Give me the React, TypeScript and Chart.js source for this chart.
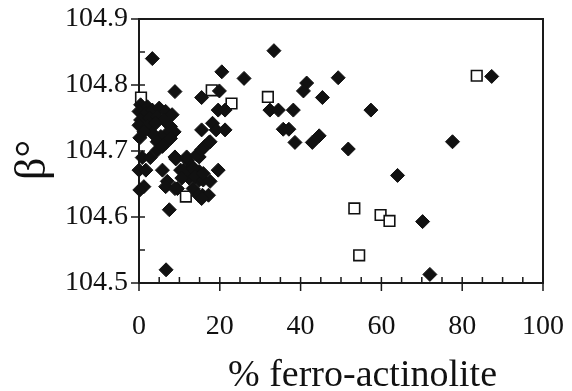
import React, { useEffect, useRef } from "react";
import { Chart, registerables } from "chart.js";

Chart.register(...registerables);

// Filled diamonds
const diamondX = [
  3.3, 20.5, 26.0, 33.4, 8.9, 19.9, 15.5,
  19.6, 21.3, 32.4, 34.5, 38.2, 57.4,
  15.5, 18.2, 19.1, 21.3, 17.3,
  49.3, 41.5, 40.7, 45.4,
  35.7, 37.1, 38.6, 42.9, 44.6, 51.8,
  64.0, 70.2, 87.3, 77.6, 72.0, 6.7, 7.5,
  0.4, 2.1, 0.0, 1.7, 3.3, 5.0, 6.6, 8.2,
  0.4, 2.5, 4.5, 6.2,
  0.0, 2.1, 4.1, 7.8, 8.7, 7.0, 5.4, 3.3, 1.2, 0.2,
  4.5, 6.6, 7.8,
  0.8, 2.8, 4.5, 5.8, 9.1, 12.0, 14.9,
  0.0, 1.7, 5.8, 10.3, 13.2, 14.9,
  12.4, 14.9, 7.0, 1.2, 6.6, 9.5, 15.7,
  16.3, 8.9, 11.8, 14.3, 15.5, 19.6, 11.0, 13.4, 10.6, 13.9, 15.9, 15.9, 17.6,
  8.9, 13.4, 14.7, 17.2, 15.5, 0.2, 17.6,
];
const diamondY = [
  104.84, 104.82, 104.81, 104.852, 104.79, 104.791, 104.781,
  104.762, 104.762, 104.762, 104.762, 104.762, 104.762,
  104.732, 104.742, 104.732, 104.732, 104.713,
  104.811, 104.803, 104.791, 104.781,
  104.733, 104.733, 104.713, 104.713, 104.723, 104.703,
  104.663, 104.593, 104.813, 104.714, 104.513, 104.52, 104.611,
  104.77, 104.767, 104.76, 104.757, 104.762, 104.765, 104.76, 104.755,
  104.747, 104.75, 104.752, 104.747,
  104.739, 104.737, 104.742, 104.737, 104.729, 104.727, 104.722, 104.727, 104.729, 104.72,
  104.714, 104.712, 104.719,
  104.69, 104.69, 104.701, 104.707, 104.688, 104.686, 104.691,
  104.671, 104.671, 104.671, 104.671, 104.676, 104.669,
  104.659, 104.656, 104.654, 104.646, 104.646, 104.643, 104.633,
  104.707, 104.691, 104.691, 104.694, 104.702, 104.671, 104.671, 104.674, 104.659, 104.661, 104.656, 104.666, 104.654,
  104.643, 104.643, 104.633, 104.633, 104.628, 104.641, 104.714,
];

// Open squares
const squareX = [0.5, 18.0, 22.9, 31.9, 11.6, 53.3, 59.8, 62.0, 54.5, 83.6];
const squareY = [104.781, 104.792, 104.772, 104.782, 104.631, 104.613, 104.603, 104.594, 104.542, 104.814];

const xTickValues = [0, 20, 40, 60, 80, 100];
const yTickValues = [104.5, 104.6, 104.7, 104.8, 104.9];
const xMinorStep = 5;
const yMinorStep = 0.05;
const xTitle = "% ferro-actinolite";
const yTitle = "β°";

const SERIF = "'Liberation Serif', 'Times New Roman', serif";

const framePlugin = {
  id: "frameTicks",
  beforeDatasetsDraw(chart: any) {
    const { ctx, chartArea } = chart;
    const { left, right, top, bottom } = chartArea;
    const xs = chart.scales.x;
    const ys = chart.scales.y;
    ctx.save();
    ctx.strokeStyle = "#1a1a1a";
    ctx.lineWidth = 2;
    ctx.strokeRect(left, top, right - left, bottom - top);
    ctx.lineWidth = 1.5;
    ctx.beginPath();
    for (let v = xs.min; v <= xs.max + 1e-9; v += xMinorStep) {
      const px = xs.getPixelForValue(v);
      const major = xTickValues.some((t) => Math.abs(t - v) < 1e-6);
      ctx.moveTo(px, bottom - 6);
      ctx.lineTo(px, major ? bottom + 8 : bottom);
    }
    for (let v = ys.min; v <= ys.max + 1e-9; v += yMinorStep) {
      const py = ys.getPixelForValue(v);
      const major = yTickValues.some((t) => Math.abs(t - v) < 1e-6);
      ctx.moveTo(major ? left - 8 : left, py);
      ctx.lineTo(left + 6, py);
    }
    ctx.stroke();
    ctx.restore();
  },
  afterDraw(chart: any) {
    const { ctx } = chart;
    ctx.save();
    ctx.fillStyle = "#111";
    ctx.font = `38px ${SERIF}`;
    ctx.textAlign = "left";
    ctx.textBaseline = "alphabetic";
    ctx.fillText(xTitle, 228, 386);
    ctx.translate(33, 160);
    ctx.rotate(-Math.PI / 2);
    ctx.font = `44px ${SERIF}`;
    ctx.textAlign = "center";
    ctx.textBaseline = "middle";
    ctx.fillText(yTitle, 0, 0);
    ctx.restore();
  },
};

export default function App() {
  const ref = useRef<HTMLCanvasElement>(null);
  useEffect(() => {
    if (!ref.current) return;
    const chart = new Chart(ref.current, {
      type: "scatter",
      data: {
        datasets: [
          {
            label: "filled",
            data: diamondX.map((x, i) => ({ x, y: diamondY[i] })),
            pointStyle: "rectRot",
            pointRadius: 7,
            backgroundColor: "#111",
            borderColor: "#111",
            borderWidth: 1,
            clip: false,
          },
          {
            label: "open",
            data: squareX.map((x, i) => ({ x, y: squareY[i] })),
            pointStyle: "rect",
            pointRadius: 7.5,
            backgroundColor: "#fff",
            borderColor: "#111",
            borderWidth: 1.6,
            clip: false,
          },
        ],
      },
      options: {
        animation: false,
        responsive: false,
        maintainAspectRatio: false,
        layout: { padding: { top: 19, right: 29, left: 0, bottom: 0 } },
        plugins: { legend: { display: false }, tooltip: { enabled: false } },
        scales: {
          x: {
            type: "linear",
            min: 0,
            max: 100,
            afterBuildTicks: (s: any) => {
              s.ticks = xTickValues.map((v) => ({ value: v }));
            },
            afterFit: (s: any) => {
              s.height = 108;
              s.paddingLeft = 0;
              s.paddingRight = 0;
              s.paddingTop = 0;
              s.paddingBottom = 0;
            },
            grid: { display: false, drawTicks: false },
            border: { display: false },
            ticks: {
              color: "#111",
              padding: 27,
              maxRotation: 0,
              font: { family: SERIF, size: 28 },
            },
          },
          y: {
            type: "linear",
            min: 104.5,
            max: 104.9,
            afterBuildTicks: (s: any) => {
              s.ticks = yTickValues.map((v) => ({ value: v }));
            },
            afterFit: (s: any) => {
              s.width = 139;
              s.paddingLeft = 0;
              s.paddingRight = 0;
              s.paddingTop = 0;
              s.paddingBottom = 0;
            },
            grid: { display: false, drawTicks: false },
            border: { display: false },
            ticks: {
              color: "#111",
              padding: 11,
              font: { family: SERIF, size: 28 },
              callback: (v: any) => Number(v).toFixed(1),
            },
          },
        },
      },
      plugins: [framePlugin],
    });
    return () => chart.destroy();
  }, []);
  return (
    <div style={{ position: "fixed", left: 0, top: 0, width: 572, height: 391, background: "#fff" }}>
      <canvas ref={ref} width={572} height={391} style={{ width: 572, height: 391 }} />
    </div>
  );
}
